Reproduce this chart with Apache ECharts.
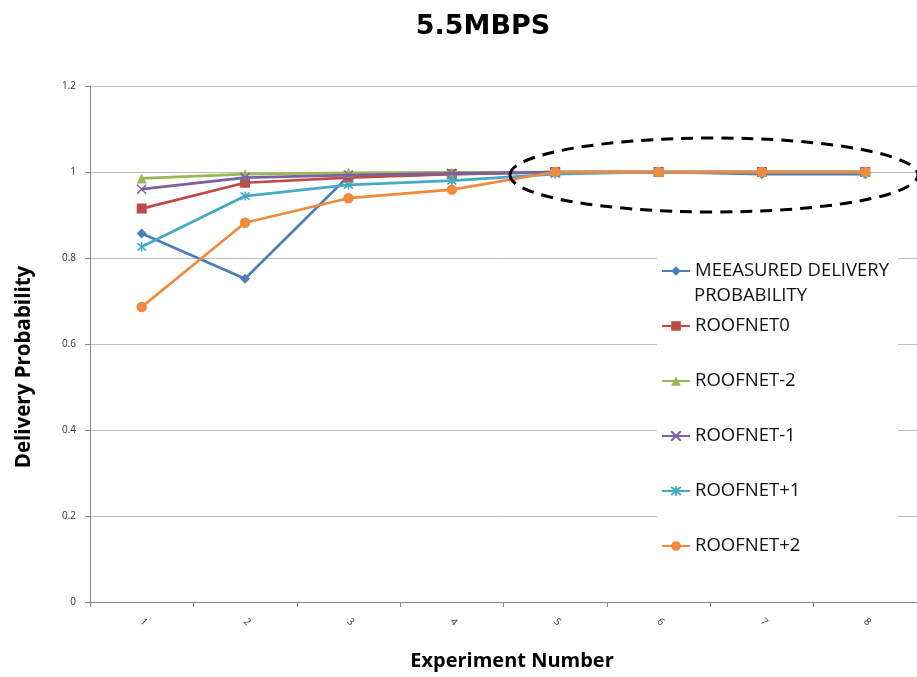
<!DOCTYPE html>
<html>
<head>
<meta charset="utf-8">
<script src="https://cdn.jsdelivr.net/npm/echarts@6/dist/echarts.min.js"></script>
<style>
  html, body { margin: 0; padding: 0; background: #fff; }
  #chart { width: 917px; height: 677px; }
</style>
</head>
<body>
<div id="chart"></div>
<script>
// Experiment numbers on the x axis
const experiments = ['1', '2', '3', '4', '5', '6', '7', '8'];
const yTicks = [0, 0.2, 0.4, 0.6, 0.8, 1, 1.2];

// Delivery probability per experiment
const measured   = [0.857, 0.752, 0.990, 0.995, 0.999, 1.000, 0.995, 0.995];
const roofnet0   = [0.915, 0.975, 0.987, 0.995, 1.000, 1.000, 1.000, 1.000];
const roofnetM2  = [0.985, 0.995, 0.998, 0.999, 1.000, 1.000, 1.000, 1.000];
const roofnetM1  = [0.960, 0.987, 0.993, 0.997, 1.000, 1.000, 1.000, 1.000];
const roofnetP1  = [0.826, 0.944, 0.970, 0.980, 0.995, 1.000, 1.000, 1.000];
const roofnetP2  = [0.686, 0.882, 0.939, 0.959, 1.000, 1.000, 1.000, 1.000];

const seriesNames = ['MEEASURED DELIVERY PROBABILITY', 'ROOFNET0', 'ROOFNET-2', 'ROOFNET-1', 'ROOFNET+1', 'ROOFNET+2'];
const seriesData = [measured, roofnet0, roofnetM2, roofnetM1, roofnetP1, roofnetP2];
const colors = ['#4A7EBB', '#BE4B48', '#98B954', '#7D60A0', '#46AAC5', '#F08A3C'];

const crossPath = 'path://M0,0L10,10M10,0L0,10';
const starPath = 'path://M0,0L10,10M10,0L0,10M5,-1L5,11';
const symbols = ['diamond', 'rect', 'triangle', crossPath, starPath, 'circle'];
const symbolSizes = [10, 10, 10, 9, 9, 10.5];

const FONT = '"Open Sans", "Liberation Sans", sans-serif';
const TITLE_FONT = '"DejaVu Sans", "Liberation Sans", sans-serif';
const LEGEND_SIZE = 18.5;

const series = seriesNames.map((name, i) => {
  const stroked = i === 3 || i === 4;
  return {
    name: name,
    type: 'line',
    data: seriesData[i],
    symbol: symbols[i],
    symbolSize: symbolSizes[i],
    showAllSymbol: true,
    lineStyle: { color: colors[i], width: 2.75 },
    itemStyle: stroked
      ? { color: colors[i], borderColor: colors[i], borderWidth: 1.5 }
      : { color: colors[i], borderWidth: 0 },
    emphasis: { disabled: true },
    z: 2 + i
  };
});

// Legend entries stacked on the right of the plot, one legend per entry
const legendCenters = [271, 326, 381, 436, 491, 546];
const legends = seriesNames.map((name, i) => ({
  data: [name],
  left: 661,
  top: legendCenters[i] - 13,
  itemWidth: 28,
  itemHeight: 12,
  itemGap: 0,
  padding: 0,
  selectedMode: false,
  formatter: n => (i === 0 ? 'MEEASURED DELIVERY' : n),
  textStyle: { fontFamily: FONT, fontSize: LEGEND_SIZE, color: '#111', lineHeight: 26 }
}));

const chart = echarts.init(document.getElementById('chart'));
chart.setOption({
  backgroundColor: '#fff',
  animation: false,
  title: {
    text: '5.5MBPS',
    left: 478,
    textAlign: 'center',
    top: 8,
    textStyle: { fontFamily: TITLE_FONT, fontSize: 27, fontWeight: 'bold', color: '#000' }
  },
  legend: legends,
  grid: { left: 90, top: 86, width: 829, height: 516 },
  xAxis: {
    type: 'category',
    data: experiments,
    boundaryGap: true,
    axisLine: { lineStyle: { color: '#868686', width: 1 } },
    axisTick: { show: true, alignWithLabel: false, length: 5, lineStyle: { color: '#868686' } },
    axisLabel: { rotate: -45, fontFamily: FONT, fontSize: 10, color: '#333', margin: 18 },
    splitLine: { show: false }
  },
  yAxis: {
    type: 'value',
    min: yTicks[0],
    max: yTicks[yTicks.length - 1],
    interval: 0.2,
    axisLine: { show: true, lineStyle: { color: '#868686', width: 1 } },
    axisTick: { show: true, length: 5, lineStyle: { color: '#868686' } },
    axisLabel: {
      fontFamily: FONT, fontSize: 10, color: '#333', margin: 14,
      formatter: v => String(Math.round(v * 10) / 10)
    },
    splitLine: { show: true, lineStyle: { color: '#BDBDBD', width: 1 } }
  },
  graphic: [
    {
      // white box behind the legend hides the gridlines
      type: 'rect',
      z: 1,
      shape: { x: 657, y: 255, width: 241, height: 305 },
      style: { fill: '#fff' },
      silent: true
    },
    {
      // second line of the first legend entry
      type: 'text',
      z: 5,
      x: 694,
      y: 296,
      style: {
        text: 'PROBABILITY',
        font: 'normal ' + LEGEND_SIZE + 'px ' + FONT,
        fill: '#111',
        textAlign: 'left',
        textVerticalAlign: 'middle'
      },
      silent: true
    },
    {
      // x axis title
      type: 'text',
      z: 5,
      x: 512,
      y: 661,
      style: {
        text: 'Experiment Number',
        font: 'bold 20px ' + FONT,
        fill: '#000',
        textAlign: 'center',
        textVerticalAlign: 'middle'
      },
      silent: true
    },
    {
      // y axis title
      type: 'text',
      z: 5,
      x: 24,
      y: 367,
      rotation: Math.PI / 2,
      style: {
        text: 'Delivery Probability',
        font: 'bold 20.5px ' + FONT,
        fill: '#000',
        textAlign: 'center',
        textVerticalAlign: 'middle'
      },
      silent: true
    },
    {
      // dashed ellipse around the converged region
      type: 'ellipse',
      z: 20,
      shape: { cx: 714, cy: 175, rx: 204, ry: 37 },
      style: { fill: 'none', stroke: '#000', lineWidth: 3, lineDash: [12, 8] },
      silent: true
    }
  ],
  series: series
});
</script>
</body>
</html>
